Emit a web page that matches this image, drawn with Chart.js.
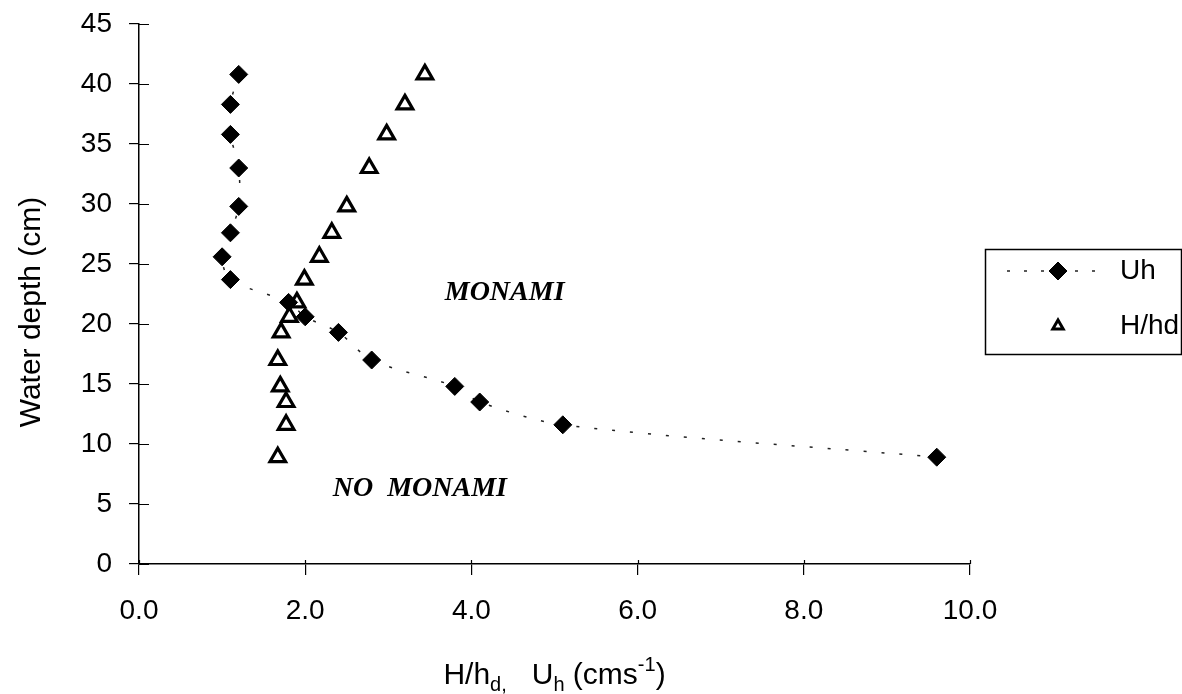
<!DOCTYPE html>
<html>
<head>
<meta charset="utf-8">
<script src="https://cdn.jsdelivr.net/npm/chart.js@4"></script>
<style>
  html, body { margin: 0; padding: 0; background: #fff; }
  #wrap { width: 1182px; height: 694px; position: relative; }
</style>
</head>
<body>
<div id="wrap"><canvas id="chart"></canvas></div>
<script>
// ── Data ───────────────────────────────────────────
const depths   = [40.8, 38.3, 35.8, 33.0, 29.8, 27.6, 25.6, 23.7, 21.8, 20.6, 19.3, 17.0, 14.8, 13.5, 11.6, 8.9];
const uhValues = [1.2, 1.1, 1.1, 1.2, 1.2, 1.1, 1.0, 1.1, 1.8, 2.0, 2.4, 2.8, 3.8, 4.1, 5.1, 9.6];
const hhdValues = [3.44, 3.20, 2.98, 2.77, 2.50, 2.32, 2.17, 1.99, 1.90, 1.81, 1.71, 1.67, 1.70, 1.77, 1.77, 1.67];
const seriesNames = ['Uh', 'H/hd'];
const xTicks = [0, 2, 4, 6, 8, 10];
const yTicks = [0, 5, 10, 15, 20, 25, 30, 35, 40, 45];
const regionLabels = [
  { text: 'MONAMI', x: 4.4, y: 22.6 },
  { text: 'NO  MONAMI', x: 3.38, y: 6.3 }
];

const SANS = '"Liberation Sans", Arial, sans-serif';
const SERIF = '"Liberation Serif", "Times New Roman", serif';

// ── Extra drawing: crossing ticks, titles, region labels, legend ──
const decorPlugin = {
  id: 'decor',
  afterDraw(chart) {
    const { ctx, chartArea: a, scales: { x, y } } = chart;
    ctx.save();

    // inner half of the crossing ticks
    ctx.strokeStyle = '#000';
    ctx.lineWidth = 1.2;
    ctx.beginPath();
    yTicks.forEach(v => {
      const py = Math.round(y.getPixelForValue(v)) + 0.5;
      ctx.moveTo(a.left, py); ctx.lineTo(a.left + 10, py);
    });
    xTicks.forEach(v => {
      const px = Math.round(x.getPixelForValue(v)) + 0.5;
      ctx.moveTo(px, a.bottom); ctx.lineTo(px, a.bottom - 4);
    });
    ctx.stroke();

    // region labels
    ctx.fillStyle = '#000';
    ctx.font = 'italic bold 28px ' + SERIF;
    ctx.textAlign = 'center';
    ctx.textBaseline = 'middle';
    regionLabels.forEach(l => {
      ctx.fillText(l.text, x.getPixelForValue(l.x), y.getPixelForValue(l.y));
    });

    // y title
    ctx.save();
    ctx.translate(32, (a.top + a.bottom) / 2 + 18);
    ctx.rotate(-Math.PI / 2);
    ctx.font = '30px ' + SANS;
    ctx.fillText('Water depth (cm)', 0, 0);
    ctx.restore();

    // x title with sub/superscripts
    const big = '30px ' + SANS, small = '20px ' + SANS;
    const parts = [
      { t: 'H/h', f: big, dy: 0 },
      { t: 'd,', f: small, dy: 7 },
      { t: '   U', f: big, dy: 0 },
      { t: 'h', f: small, dy: 7 },
      { t: ' (cms', f: big, dy: 0 },
      { t: '-1', f: small, dy: -13 },
      { t: ')', f: big, dy: 0 }
    ];
    let total = 0;
    parts.forEach(p => { ctx.font = p.f; p.w = ctx.measureText(p.t).width; total += p.w; });
    let cx = (a.left + a.right) / 2 - total / 2;
    const base = 684;
    ctx.textAlign = 'left';
    ctx.textBaseline = 'alphabetic';
    parts.forEach(p => { ctx.font = p.f; ctx.fillText(p.t, cx, base + p.dy); cx += p.w; });

    // legend box
    const bx = a.right + 15, by = 249, bw = 1181 - bx, bh = 105;
    ctx.lineWidth = 1.5;
    ctx.strokeRect(bx + 0.5, by + 0.5, bw, bh);
    const mx = bx + 73, tx = bx + 135;
    const rows = [by + 22, by + 77];
    const ds = chart.data.datasets;
    // Uh row: dotted line + diamond
    ctx.save();
    ctx.setLineDash([3, 14]);
    ctx.lineWidth = ds[0].borderWidth;
    ctx.strokeStyle = ds[0].borderColor;
    ctx.beginPath();
    ctx.moveTo(bx + 22, rows[0]); ctx.lineTo(bx + 124, rows[0]);
    ctx.stroke();
    ctx.restore();
    ctx.fillStyle = '#000';
    ctx.strokeStyle = '#000';
    ctx.lineWidth = 1;
    Chart.helpers.drawPoint(ctx, { pointStyle: 'rectRot', radius: 9, borderWidth: 1 }, mx, rows[0]);
    // H/hd row: small triangle
    ctx.fillStyle = '#fff';
    ctx.lineWidth = 3;
    Chart.helpers.drawPoint(ctx, { pointStyle: 'triangle', radius: 6, borderWidth: 3 }, mx, rows[1]);
    ctx.fillStyle = '#000';
    ctx.font = '28px ' + SANS;
    ctx.textBaseline = 'middle';
    ctx.fillText(ds[0].label, tx, rows[0]);
    ctx.fillText(ds[1].label, tx, rows[1]);

    ctx.restore();
  }
};

// ── Chart ──────────────────────────────────────────
const toPoints = (xs) => xs.map((v, i) => ({ x: v, y: depths[i] }));

new Chart(document.getElementById('chart'), {
  type: 'scatter',
  data: {
    datasets: [{
      label: seriesNames[0],
      data: toPoints(uhValues),
      showLine: true,
      borderColor: '#222',
      borderWidth: 1.5,
      borderDash: [3, 15],
      tension: 0.3,
      pointStyle: 'rectRot',
      pointRadius: 9,
      pointBorderWidth: 1,
      pointBackgroundColor: '#000',
      pointBorderColor: '#000'
    }, {
      label: seriesNames[1],
      data: toPoints(hhdValues),
      showLine: false,
      pointStyle: 'triangle',
      pointRadius: 9,
      pointBorderWidth: 3.2,
      pointBackgroundColor: '#fff',
      pointBorderColor: '#000'
    }]
  },
  options: {
    responsive: true,
    maintainAspectRatio: false,
    animation: false,
    layout: { padding: { left: 0, right: 212, top: 24, bottom: 0 } },
    plugins: {
      legend: { display: false },
      tooltip: { enabled: false }
    },
    scales: {
      x: {
        type: 'linear',
        min: 0, max: 10,
        afterBuildTicks: s => { s.ticks = xTicks.map(v => ({ value: v })); },
        afterFit: s => { s.height = 130; s.paddingLeft = 0; s.paddingRight = 0; },
        grid: { drawOnChartArea: false, drawTicks: true, tickLength: 11, color: '#000', lineWidth: 1.2 },
        border: { display: true, color: '#000', width: 1.5 },
        ticks: {
          color: '#000',
          font: { family: SANS, size: 28 },
          padding: 19,
          maxRotation: 0,
          callback: v => Number(v).toFixed(1)
        }
      },
      y: {
        type: 'linear',
        min: 0, max: 45,
        afterBuildTicks: s => { s.ticks = yTicks.map(v => ({ value: v })); },
        afterFit: s => { s.width = 139; s.paddingTop = 0; s.paddingBottom = 0; },
        grid: { drawOnChartArea: false, drawTicks: true, tickLength: 10, color: '#000', lineWidth: 1.2 },
        border: { display: true, color: '#000', width: 1.5 },
        ticks: {
          color: '#000',
          font: { family: SANS, size: 28 },
          padding: 17
        }
      }
    }
  },
  plugins: [decorPlugin]
});
</script>
</body>
</html>
